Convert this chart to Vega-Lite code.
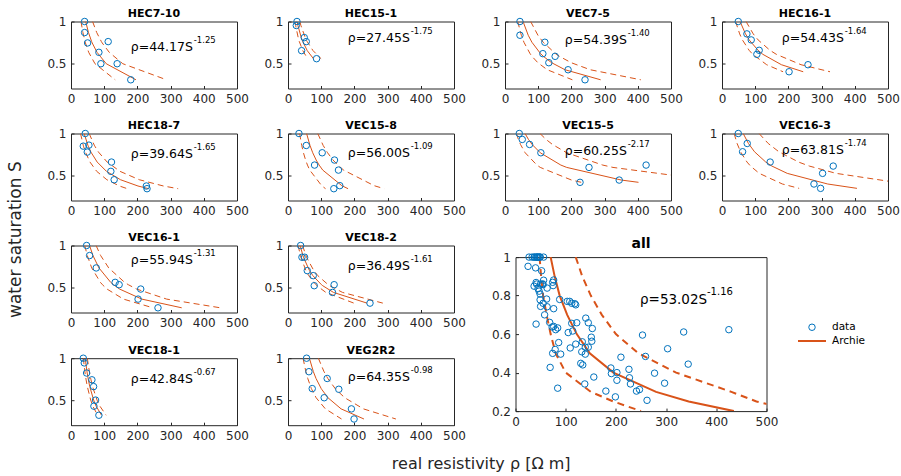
{
"$schema":"https://vega.github.io/schema/vega-lite/v6.json",
"padding":{"left":7,"top":7.5,"right":0,"bottom":0},
"config":{"view":{"stroke":"#262626","strokeWidth":1},"axis":{"domain":false,"grid":false,"labelFont":"DejaVu Sans","labelFontSize":12,"labelColor":"#262626","tickColor":"#262626","tickSize":-3,"labelPadding":8,"labelOverlap":false,"labelFlush":false},"title":{"font":"DejaVu Sans","fontSize":11,"fontWeight":"bold","color":"#000000","offset":-3.6},"text":{"font":"DejaVu Sans"},"legend":{"labelFont":"DejaVu Sans","labelFontSize":10.5,"labelColor":"#000000"}},
"datasets":{
"ann":[{"s":"HEC7-10","m":"ρ=44.17S","e":"-1.25"},{"s":"HEC15-1","m":"ρ=27.45S","e":"-1.75"},{"s":"VEC7-5","m":"ρ=54.39S","e":"-1.40"},{"s":"HEC16-1","m":"ρ=54.43S","e":"-1.64"},{"s":"HEC18-7","m":"ρ=39.64S","e":"-1.65"},{"s":"VEC15-8","m":"ρ=56.00S","e":"-1.09"},{"s":"VEC15-5","m":"ρ=60.25S","e":"-2.17"},{"s":"VEC16-3","m":"ρ=63.81S","e":"-1.74"},{"s":"VEC16-1","m":"ρ=55.94S","e":"-1.31"},{"s":"VEC18-2","m":"ρ=36.49S","e":"-1.61"},{"s":"VEC18-1","m":"ρ=42.84S","e":"-0.67"},{"s":"VEG2R2","m":"ρ=64.35S","e":"-0.98"},{"s":"all","m":"ρ=53.02S","e":"-1.16"}],
"pts":[
{"s":"HEC7-10","r":41,"S":1},{"s":"HEC7-10","r":41,"S":0.868},{"s":"HEC7-10","r":50,"S":0.744},{"s":"HEC7-10","r":112,"S":0.76},{"s":"HEC7-10","r":84,"S":0.632},{"s":"HEC7-10","r":90,"S":0.496},{"s":"HEC7-10","r":139,"S":0.496},{"s":"HEC7-10","r":180,"S":0.304},
{"s":"HEC15-1","r":27,"S":1},{"s":"HEC15-1","r":25,"S":0.952},{"s":"HEC15-1","r":49,"S":0.808},{"s":"HEC15-1","r":55,"S":0.76},{"s":"HEC15-1","r":41,"S":0.652},{"s":"HEC15-1","r":86,"S":0.556},
{"s":"VEC7-5","r":45,"S":1},{"s":"VEC7-5","r":45,"S":0.836},{"s":"VEC7-5","r":120,"S":0.752},{"s":"VEC7-5","r":114,"S":0.616},{"s":"VEC7-5","r":151,"S":0.584},{"s":"VEC7-5","r":132,"S":0.508},{"s":"VEC7-5","r":190,"S":0.424},{"s":"VEC7-5","r":241,"S":0.304},
{"s":"HEC16-1","r":49,"S":1},{"s":"HEC16-1","r":75,"S":0.852},{"s":"HEC16-1","r":88,"S":0.78},{"s":"HEC16-1","r":112,"S":0.656},{"s":"HEC16-1","r":105,"S":0.608},{"s":"HEC16-1","r":259,"S":0.484},{"s":"HEC16-1","r":202,"S":0.4},
{"s":"HEC18-7","r":43,"S":1},{"s":"HEC18-7","r":37,"S":0.849},{"s":"HEC18-7","r":54,"S":0.861},{"s":"HEC18-7","r":49,"S":0.778},{"s":"HEC18-7","r":122,"S":0.659},{"s":"HEC18-7","r":120,"S":0.548},{"s":"HEC18-7","r":130,"S":0.448},{"s":"HEC18-7","r":227,"S":0.373},{"s":"HEC18-7","r":229,"S":0.341},
{"s":"VEC15-8","r":33,"S":1},{"s":"VEC15-8","r":55,"S":0.857},{"s":"VEC15-8","r":103,"S":0.77},{"s":"VEC15-8","r":140,"S":0.683},{"s":"VEC15-8","r":80,"S":0.623},{"s":"VEC15-8","r":152,"S":0.563},{"s":"VEC15-8","r":156,"S":0.377},{"s":"VEC15-8","r":138,"S":0.341},
{"s":"VEC15-5","r":43,"S":1},{"s":"VEC15-5","r":52,"S":0.929},{"s":"VEC15-5","r":74,"S":0.869},{"s":"VEC15-5","r":108,"S":0.77},{"s":"VEC15-5","r":253,"S":0.595},{"s":"VEC15-5","r":425,"S":0.623},{"s":"VEC15-5","r":344,"S":0.444},{"s":"VEC15-5","r":226,"S":0.417},
{"s":"VEC16-3","r":49,"S":1},{"s":"VEC16-3","r":76,"S":0.881},{"s":"VEC16-3","r":62,"S":0.782},{"s":"VEC16-3","r":145,"S":0.659},{"s":"VEC16-3","r":335,"S":0.611},{"s":"VEC16-3","r":303,"S":0.524},{"s":"VEC16-3","r":277,"S":0.397},{"s":"VEC16-3","r":297,"S":0.345},
{"s":"VEC16-1","r":47,"S":1},{"s":"VEC16-1","r":56,"S":0.88},{"s":"VEC16-1","r":76,"S":0.732},{"s":"VEC16-1","r":133,"S":0.56},{"s":"VEC16-1","r":145,"S":0.532},{"s":"VEC16-1","r":210,"S":0.48},{"s":"VEC16-1","r":202,"S":0.36},{"s":"VEC16-1","r":262,"S":0.256},
{"s":"VEC18-2","r":38,"S":1},{"s":"VEC18-2","r":42,"S":0.86},{"s":"VEC18-2","r":50,"S":0.86},{"s":"VEC18-2","r":58,"S":0.7},{"s":"VEC18-2","r":76,"S":0.64},{"s":"VEC18-2","r":79,"S":0.52},{"s":"VEC18-2","r":139,"S":0.532},{"s":"VEC18-2","r":134,"S":0.44},{"s":"VEC18-2","r":247,"S":0.312},
{"s":"VEC18-1","r":37,"S":1},{"s":"VEC18-1","r":40,"S":0.944},{"s":"VEC18-1","r":47,"S":0.823},{"s":"VEC18-1","r":63,"S":0.742},{"s":"VEC18-1","r":68,"S":0.661},{"s":"VEC18-1","r":74,"S":0.5},{"s":"VEC18-1","r":69,"S":0.427},{"s":"VEC18-1","r":84,"S":0.319},
{"s":"VEG2R2","r":56,"S":1},{"s":"VEG2R2","r":63,"S":0.839},{"s":"VEG2R2","r":118,"S":0.758},{"s":"VEG2R2","r":73,"S":0.637},{"s":"VEG2R2","r":153,"S":0.629},{"s":"VEG2R2","r":109,"S":0.528},{"s":"VEG2R2","r":191,"S":0.395},{"s":"VEG2R2","r":199,"S":0.274}
],
"cur":[
{"s":"HEC7-10","S":1,"fit":44.2,"lo":30,"hi":64.9},{"s":"HEC7-10","S":0.868,"fit":52.7,"lo":35.9,"hi":77.5},{"s":"HEC7-10","S":0.76,"fit":62.2,"lo":42.3,"hi":91.5},{"s":"HEC7-10","S":0.744,"fit":63.9,"lo":43.5,"hi":94},{"s":"HEC7-10","S":0.632,"fit":78.4,"lo":53.3,"hi":115.2},{"s":"HEC7-10","S":0.496,"fit":106.1,"lo":72.2,"hi":156},{"s":"HEC7-10","S":0.304,"fit":195.7,"lo":133.1,"hi":287.7},
{"s":"HEC15-1","S":1,"fit":27.5,"lo":21.1,"hi":35.7},{"s":"HEC15-1","S":0.952,"fit":29.9,"lo":23,"hi":38.9},{"s":"HEC15-1","S":0.808,"fit":39.9,"lo":30.7,"hi":51.8},{"s":"HEC15-1","S":0.76,"fit":44.4,"lo":34.1,"hi":57.7},{"s":"HEC15-1","S":0.652,"fit":58,"lo":44.6,"hi":75.4},{"s":"HEC15-1","S":0.556,"fit":76.7,"lo":59,"hi":99.7},
{"s":"VEC7-5","S":1,"fit":54.4,"lo":38.3,"hi":77.2},{"s":"VEC7-5","S":0.836,"fit":69.9,"lo":49.2,"hi":99.2},{"s":"VEC7-5","S":0.752,"fit":81.1,"lo":57.1,"hi":115.1},{"s":"VEC7-5","S":0.616,"fit":107.2,"lo":75.5,"hi":152.2},{"s":"VEC7-5","S":0.584,"fit":115.5,"lo":81.3,"hi":164},{"s":"VEC7-5","S":0.508,"fit":140.4,"lo":98.9,"hi":199.4},{"s":"VEC7-5","S":0.424,"fit":180.8,"lo":127.3,"hi":256.7},{"s":"VEC7-5","S":0.304,"fit":288.1,"lo":202.9,"hi":409.1},
{"s":"HEC16-1","S":1,"fit":54.4,"lo":40.9,"hi":72.4},{"s":"HEC16-1","S":0.852,"fit":70.8,"lo":53.2,"hi":94.1},{"s":"HEC16-1","S":0.78,"fit":81.8,"lo":61.5,"hi":108.8},{"s":"HEC16-1","S":0.656,"fit":108.7,"lo":81.7,"hi":144.5},{"s":"HEC16-1","S":0.608,"fit":123.1,"lo":92.6,"hi":163.7},{"s":"HEC16-1","S":0.484,"fit":178.9,"lo":134.5,"hi":238},{"s":"HEC16-1","S":0.4,"fit":244.6,"lo":183.9,"hi":325.3},
{"s":"HEC18-7","S":1,"fit":39.6,"lo":28.7,"hi":54.7},{"s":"HEC18-7","S":0.861,"fit":50.8,"lo":36.8,"hi":70},{"s":"HEC18-7","S":0.849,"fit":51.9,"lo":37.6,"hi":71.7},{"s":"HEC18-7","S":0.778,"fit":60,"lo":43.5,"hi":82.8},{"s":"HEC18-7","S":0.659,"fit":78.9,"lo":57.2,"hi":108.9},{"s":"HEC18-7","S":0.548,"fit":106.9,"lo":77.5,"hi":147.6},{"s":"HEC18-7","S":0.448,"fit":149.1,"lo":108.1,"hi":205.8},{"s":"HEC18-7","S":0.373,"fit":201.8,"lo":146.2,"hi":278.5},{"s":"HEC18-7","S":0.341,"fit":233.9,"lo":169.5,"hi":322.8},
{"s":"VEC15-8","S":1,"fit":56,"lo":35,"hi":89.6},{"s":"VEC15-8","S":0.857,"fit":66.3,"lo":41.4,"hi":106},{"s":"VEC15-8","S":0.77,"fit":74.5,"lo":46.5,"hi":119.1},{"s":"VEC15-8","S":0.683,"fit":84.9,"lo":53,"hi":135.8},{"s":"VEC15-8","S":0.623,"fit":93.8,"lo":58.6,"hi":150.1},{"s":"VEC15-8","S":0.563,"fit":104.7,"lo":65.5,"hi":167.6},{"s":"VEC15-8","S":0.377,"fit":162.2,"lo":101.4,"hi":259.5},{"s":"VEC15-8","S":0.341,"fit":180.9,"lo":113.1,"hi":289.5},
{"s":"VEC15-5","S":1,"fit":60.3,"lo":34.4,"hi":105.4},{"s":"VEC15-5","S":0.929,"fit":70.7,"lo":40.4,"hi":123.7},{"s":"VEC15-5","S":0.869,"fit":81.7,"lo":46.7,"hi":143},{"s":"VEC15-5","S":0.77,"fit":106.2,"lo":60.7,"hi":185.9},{"s":"VEC15-5","S":0.623,"fit":168.2,"lo":96.1,"hi":294.4},{"s":"VEC15-5","S":0.595,"fit":185.9,"lo":106.2,"hi":325.3},{"s":"VEC15-5","S":0.444,"fit":350.8,"lo":200.5,"hi":613.9},{"s":"VEC15-5","S":0.417,"fit":402.1,"lo":229.8,"hi":703.6},
{"s":"VEC16-3","S":1,"fit":63.8,"lo":36.5,"hi":111.7},{"s":"VEC16-3","S":0.881,"fit":79.6,"lo":45.5,"hi":139.2},{"s":"VEC16-3","S":0.782,"fit":97.9,"lo":55.9,"hi":171.3},{"s":"VEC16-3","S":0.659,"fit":131.8,"lo":75.3,"hi":230.7},{"s":"VEC16-3","S":0.611,"fit":150.4,"lo":85.9,"hi":263.2},{"s":"VEC16-3","S":0.524,"fit":196.5,"lo":112.3,"hi":343.8},{"s":"VEC16-3","S":0.397,"fit":318.4,"lo":181.9,"hi":557.2},{"s":"VEC16-3","S":0.345,"fit":406.5,"lo":232.3,"hi":711.4},
{"s":"VEC16-1","S":1,"fit":55.9,"lo":41.4,"hi":75.5},{"s":"VEC16-1","S":0.88,"fit":66.1,"lo":49,"hi":89.3},{"s":"VEC16-1","S":0.732,"fit":84.2,"lo":62.4,"hi":113.6},{"s":"VEC16-1","S":0.56,"fit":119.6,"lo":88.6,"hi":161.4},{"s":"VEC16-1","S":0.532,"fit":127.9,"lo":94.7,"hi":172.6},{"s":"VEC16-1","S":0.48,"fit":146.3,"lo":108.4,"hi":197.5},{"s":"VEC16-1","S":0.36,"fit":213.3,"lo":158,"hi":288},{"s":"VEC16-1","S":0.256,"fit":333.4,"lo":247,"hi":450.1},
{"s":"VEC18-2","S":1,"fit":36.5,"lo":30.4,"hi":43.8},{"s":"VEC18-2","S":0.86,"fit":46.5,"lo":38.8,"hi":55.8},{"s":"VEC18-2","S":0.7,"fit":64.8,"lo":54,"hi":77.8},{"s":"VEC18-2","S":0.64,"fit":74.9,"lo":62.4,"hi":89.8},{"s":"VEC18-2","S":0.532,"fit":100.8,"lo":84,"hi":121},{"s":"VEC18-2","S":0.52,"fit":104.6,"lo":87.1,"hi":125.5},{"s":"VEC18-2","S":0.44,"fit":136.9,"lo":114,"hi":164.2},{"s":"VEC18-2","S":0.312,"fit":238,"lo":198.4,"hi":285.6},
{"s":"VEC18-1","S":1,"fit":42.8,"lo":37.3,"hi":49.3},{"s":"VEC18-1","S":0.944,"fit":44.5,"lo":38.7,"hi":51.2},{"s":"VEC18-1","S":0.823,"fit":48.8,"lo":42.4,"hi":56.1},{"s":"VEC18-1","S":0.742,"fit":52.3,"lo":45.5,"hi":60.2},{"s":"VEC18-1","S":0.661,"fit":56.5,"lo":49.2,"hi":65},{"s":"VEC18-1","S":0.5,"fit":68.2,"lo":59.3,"hi":78.4},{"s":"VEC18-1","S":0.427,"fit":75.8,"lo":65.9,"hi":87.1},{"s":"VEC18-1","S":0.319,"fit":92.1,"lo":80.1,"hi":105.9},
{"s":"VEG2R2","S":1,"fit":64.4,"lo":45.3,"hi":91.4},{"s":"VEG2R2","S":0.839,"fit":76.4,"lo":53.8,"hi":108.5},{"s":"VEG2R2","S":0.758,"fit":84.4,"lo":59.5,"hi":119.9},{"s":"VEG2R2","S":0.637,"fit":100.1,"lo":70.5,"hi":142.2},{"s":"VEG2R2","S":0.629,"fit":101.4,"lo":71.4,"hi":143.9},{"s":"VEG2R2","S":0.528,"fit":120.3,"lo":84.7,"hi":170.9},{"s":"VEG2R2","S":0.395,"fit":159.9,"lo":112.6,"hi":227.1},{"s":"VEG2R2","S":0.274,"fit":228.8,"lo":161.2,"hi":325},
{"s":"all","S":1,"fit":70,"lo":48,"hi":120},{"s":"all","S":0.9,"fit":78,"lo":51,"hi":133},{"s":"all","S":0.8,"fit":88,"lo":55,"hi":150},{"s":"all","S":0.7,"fit":103,"lo":62,"hi":172},{"s":"all","S":0.6,"fit":122,"lo":70,"hi":200},{"s":"all","S":0.5,"fit":148,"lo":80,"hi":245},{"s":"all","S":0.4,"fit":195,"lo":100,"hi":320},{"s":"all","S":0.3,"fit":280,"lo":150,"hi":430},{"s":"all","S":0.25,"fit":345,"lo":195,"hi":480},{"s":"all","S":0.2,"fit":435,"lo":250,"hi":560}
]
},
"title":{"text":"water saturation S","orient":"left","anchor":"middle","fontSize":17,"fontWeight":"normal","color":"#262626","offset":21},
"vconcat":[{
"title":{"text":"real resistivity ρ [Ω m]","orient":"bottom","anchor":"middle","fontSize":16,"fontWeight":"normal","color":"#262626","offset":14,"dx":8},
"spacing":14,
"vconcat":[
{"bounds":"flush","spacing":51,"hconcat":[
{"title":"HEC7-10","width":166,"height":67,"resolve":{"axis":{"x":"independent","y":"independent"}},"layer":[{"encoding":{"x":{"field":"r","type":"quantitative","scale":{"domain":[0,500]},"axis":{"values":[0,100,200,300,400,500],"title":null}},"y":{"field":"S","type":"quantitative","scale":{"domain":[0.2,1]},"axis":{"values":[0.5,1],"format":"~g","title":null}}},"layer":[{"data":{"name":"cur"},"transform":[{"filter":"datum.s=='HEC7-10'"},{"fold":["lo","hi"],"as":["t","r"]}],"mark":{"type":"line","color":"#D95319","strokeWidth":1,"strokeDash":[6,4],"clip":true},"encoding":{"detail":{"field":"t"}}},{"data":{"name":"cur"},"transform":[{"filter":"datum.s=='HEC7-10'"},{"fold":["fit"],"as":["t","r"]}],"mark":{"type":"line","color":"#D95319","strokeWidth":1,"clip":true}},{"data":{"name":"pts"},"transform":[{"filter":"datum.s=='HEC7-10'"}],"mark":{"type":"point","color":"#0072BD","size":42,"strokeWidth":1,"opacity":1}}]},{"data":{"name":"ann"},"transform":[{"filter":"datum.s=='HEC7-10'"}],"mark":{"type":"text","align":"left","fontSize":12.5,"color":"#000000"},"encoding":{"x":{"datum":180,"axis":null},"y":{"datum":0.7,"axis":null},"text":{"field":"m"}}},{"data":{"name":"ann"},"transform":[{"filter":"datum.s=='HEC7-10'"}],"mark":{"type":"text","align":"left","fontSize":8.5,"dx":63,"dy":-7,"color":"#000000"},"encoding":{"x":{"datum":180,"axis":null},"y":{"datum":0.7,"axis":null},"text":{"field":"e"}}}]},
{"title":"HEC15-1","width":166,"height":67,"resolve":{"axis":{"x":"independent","y":"independent"}},"layer":[{"encoding":{"x":{"field":"r","type":"quantitative","scale":{"domain":[0,500]},"axis":{"values":[0,100,200,300,400,500],"title":null}},"y":{"field":"S","type":"quantitative","scale":{"domain":[0.2,1]},"axis":{"values":[0.5,1],"format":"~g","title":null}}},"layer":[{"data":{"name":"cur"},"transform":[{"filter":"datum.s=='HEC15-1'"},{"fold":["lo","hi"],"as":["t","r"]}],"mark":{"type":"line","color":"#D95319","strokeWidth":1,"strokeDash":[6,4],"clip":true},"encoding":{"detail":{"field":"t"}}},{"data":{"name":"cur"},"transform":[{"filter":"datum.s=='HEC15-1'"},{"fold":["fit"],"as":["t","r"]}],"mark":{"type":"line","color":"#D95319","strokeWidth":1,"clip":true}},{"data":{"name":"pts"},"transform":[{"filter":"datum.s=='HEC15-1'"}],"mark":{"type":"point","color":"#0072BD","size":42,"strokeWidth":1,"opacity":1}}]},{"data":{"name":"ann"},"transform":[{"filter":"datum.s=='HEC15-1'"}],"mark":{"type":"text","align":"left","fontSize":12.5,"color":"#000000"},"encoding":{"x":{"datum":180,"axis":null},"y":{"datum":0.8,"axis":null},"text":{"field":"m"}}},{"data":{"name":"ann"},"transform":[{"filter":"datum.s=='HEC15-1'"}],"mark":{"type":"text","align":"left","fontSize":8.5,"dx":63,"dy":-7,"color":"#000000"},"encoding":{"x":{"datum":180,"axis":null},"y":{"datum":0.8,"axis":null},"text":{"field":"e"}}}]},
{"title":"VEC7-5","width":166,"height":67,"resolve":{"axis":{"x":"independent","y":"independent"}},"layer":[{"encoding":{"x":{"field":"r","type":"quantitative","scale":{"domain":[0,500]},"axis":{"values":[0,100,200,300,400,500],"title":null}},"y":{"field":"S","type":"quantitative","scale":{"domain":[0.2,1]},"axis":{"values":[0.5,1],"format":"~g","title":null}}},"layer":[{"data":{"name":"cur"},"transform":[{"filter":"datum.s=='VEC7-5'"},{"fold":["lo","hi"],"as":["t","r"]}],"mark":{"type":"line","color":"#D95319","strokeWidth":1,"strokeDash":[6,4],"clip":true},"encoding":{"detail":{"field":"t"}}},{"data":{"name":"cur"},"transform":[{"filter":"datum.s=='VEC7-5'"},{"fold":["fit"],"as":["t","r"]}],"mark":{"type":"line","color":"#D95319","strokeWidth":1,"clip":true}},{"data":{"name":"pts"},"transform":[{"filter":"datum.s=='VEC7-5'"}],"mark":{"type":"point","color":"#0072BD","size":42,"strokeWidth":1,"opacity":1}}]},{"data":{"name":"ann"},"transform":[{"filter":"datum.s=='VEC7-5'"}],"mark":{"type":"text","align":"left","fontSize":12.5,"color":"#000000"},"encoding":{"x":{"datum":180,"axis":null},"y":{"datum":0.777,"axis":null},"text":{"field":"m"}}},{"data":{"name":"ann"},"transform":[{"filter":"datum.s=='VEC7-5'"}],"mark":{"type":"text","align":"left","fontSize":8.5,"dx":63,"dy":-7,"color":"#000000"},"encoding":{"x":{"datum":180,"axis":null},"y":{"datum":0.777,"axis":null},"text":{"field":"e"}}}]},
{"title":"HEC16-1","width":166,"height":67,"resolve":{"axis":{"x":"independent","y":"independent"}},"layer":[{"encoding":{"x":{"field":"r","type":"quantitative","scale":{"domain":[0,500]},"axis":{"values":[0,100,200,300,400,500],"title":null}},"y":{"field":"S","type":"quantitative","scale":{"domain":[0.2,1]},"axis":{"values":[0.5,1],"format":"~g","title":null}}},"layer":[{"data":{"name":"cur"},"transform":[{"filter":"datum.s=='HEC16-1'"},{"fold":["lo","hi"],"as":["t","r"]}],"mark":{"type":"line","color":"#D95319","strokeWidth":1,"strokeDash":[6,4],"clip":true},"encoding":{"detail":{"field":"t"}}},{"data":{"name":"cur"},"transform":[{"filter":"datum.s=='HEC16-1'"},{"fold":["fit"],"as":["t","r"]}],"mark":{"type":"line","color":"#D95319","strokeWidth":1,"clip":true}},{"data":{"name":"pts"},"transform":[{"filter":"datum.s=='HEC16-1'"}],"mark":{"type":"point","color":"#0072BD","size":42,"strokeWidth":1,"opacity":1}}]},{"data":{"name":"ann"},"transform":[{"filter":"datum.s=='HEC16-1'"}],"mark":{"type":"text","align":"left","fontSize":12.5,"color":"#000000"},"encoding":{"x":{"datum":180,"axis":null},"y":{"datum":0.808,"axis":null},"text":{"field":"m"}}},{"data":{"name":"ann"},"transform":[{"filter":"datum.s=='HEC16-1'"}],"mark":{"type":"text","align":"left","fontSize":8.5,"dx":63,"dy":-7,"color":"#000000"},"encoding":{"x":{"datum":180,"axis":null},"y":{"datum":0.808,"axis":null},"text":{"field":"e"}}}]}
]},
{"bounds":"flush","spacing":51,"hconcat":[
{"title":"HEC18-7","width":166,"height":67,"resolve":{"axis":{"x":"independent","y":"independent"}},"layer":[{"encoding":{"x":{"field":"r","type":"quantitative","scale":{"domain":[0,500]},"axis":{"values":[0,100,200,300,400,500],"title":null}},"y":{"field":"S","type":"quantitative","scale":{"domain":[0.2,1]},"axis":{"values":[0.5,1],"format":"~g","title":null}}},"layer":[{"data":{"name":"cur"},"transform":[{"filter":"datum.s=='HEC18-7'"},{"fold":["lo","hi"],"as":["t","r"]}],"mark":{"type":"line","color":"#D95319","strokeWidth":1,"strokeDash":[6,4],"clip":true},"encoding":{"detail":{"field":"t"}}},{"data":{"name":"cur"},"transform":[{"filter":"datum.s=='HEC18-7'"},{"fold":["fit"],"as":["t","r"]}],"mark":{"type":"line","color":"#D95319","strokeWidth":1,"clip":true}},{"data":{"name":"pts"},"transform":[{"filter":"datum.s=='HEC18-7'"}],"mark":{"type":"point","color":"#0072BD","size":42,"strokeWidth":1,"opacity":1}}]},{"data":{"name":"ann"},"transform":[{"filter":"datum.s=='HEC18-7'"}],"mark":{"type":"text","align":"left","fontSize":12.5,"color":"#000000"},"encoding":{"x":{"datum":180,"axis":null},"y":{"datum":0.755,"axis":null},"text":{"field":"m"}}},{"data":{"name":"ann"},"transform":[{"filter":"datum.s=='HEC18-7'"}],"mark":{"type":"text","align":"left","fontSize":8.5,"dx":63,"dy":-7,"color":"#000000"},"encoding":{"x":{"datum":180,"axis":null},"y":{"datum":0.755,"axis":null},"text":{"field":"e"}}}]},
{"title":"VEC15-8","width":166,"height":67,"resolve":{"axis":{"x":"independent","y":"independent"}},"layer":[{"encoding":{"x":{"field":"r","type":"quantitative","scale":{"domain":[0,500]},"axis":{"values":[0,100,200,300,400,500],"title":null}},"y":{"field":"S","type":"quantitative","scale":{"domain":[0.2,1]},"axis":{"values":[0.5,1],"format":"~g","title":null}}},"layer":[{"data":{"name":"cur"},"transform":[{"filter":"datum.s=='VEC15-8'"},{"fold":["lo","hi"],"as":["t","r"]}],"mark":{"type":"line","color":"#D95319","strokeWidth":1,"strokeDash":[6,4],"clip":true},"encoding":{"detail":{"field":"t"}}},{"data":{"name":"cur"},"transform":[{"filter":"datum.s=='VEC15-8'"},{"fold":["fit"],"as":["t","r"]}],"mark":{"type":"line","color":"#D95319","strokeWidth":1,"clip":true}},{"data":{"name":"pts"},"transform":[{"filter":"datum.s=='VEC15-8'"}],"mark":{"type":"point","color":"#0072BD","size":42,"strokeWidth":1,"opacity":1}}]},{"data":{"name":"ann"},"transform":[{"filter":"datum.s=='VEC15-8'"}],"mark":{"type":"text","align":"left","fontSize":12.5,"color":"#000000"},"encoding":{"x":{"datum":180,"axis":null},"y":{"datum":0.767,"axis":null},"text":{"field":"m"}}},{"data":{"name":"ann"},"transform":[{"filter":"datum.s=='VEC15-8'"}],"mark":{"type":"text","align":"left","fontSize":8.5,"dx":63,"dy":-7,"color":"#000000"},"encoding":{"x":{"datum":180,"axis":null},"y":{"datum":0.767,"axis":null},"text":{"field":"e"}}}]},
{"title":"VEC15-5","width":166,"height":67,"resolve":{"axis":{"x":"independent","y":"independent"}},"layer":[{"encoding":{"x":{"field":"r","type":"quantitative","scale":{"domain":[0,500]},"axis":{"values":[0,100,200,300,400,500],"title":null}},"y":{"field":"S","type":"quantitative","scale":{"domain":[0.2,1]},"axis":{"values":[0.5,1],"format":"~g","title":null}}},"layer":[{"data":{"name":"cur"},"transform":[{"filter":"datum.s=='VEC15-5'"},{"fold":["lo","hi"],"as":["t","r"]}],"mark":{"type":"line","color":"#D95319","strokeWidth":1,"strokeDash":[6,4],"clip":true},"encoding":{"detail":{"field":"t"}}},{"data":{"name":"cur"},"transform":[{"filter":"datum.s=='VEC15-5'"},{"fold":["fit"],"as":["t","r"]}],"mark":{"type":"line","color":"#D95319","strokeWidth":1,"clip":true}},{"data":{"name":"pts"},"transform":[{"filter":"datum.s=='VEC15-5'"}],"mark":{"type":"point","color":"#0072BD","size":42,"strokeWidth":1,"opacity":1}}]},{"data":{"name":"ann"},"transform":[{"filter":"datum.s=='VEC15-5'"}],"mark":{"type":"text","align":"left","fontSize":12.5,"color":"#000000"},"encoding":{"x":{"datum":180,"axis":null},"y":{"datum":0.796,"axis":null},"text":{"field":"m"}}},{"data":{"name":"ann"},"transform":[{"filter":"datum.s=='VEC15-5'"}],"mark":{"type":"text","align":"left","fontSize":8.5,"dx":63,"dy":-7,"color":"#000000"},"encoding":{"x":{"datum":180,"axis":null},"y":{"datum":0.796,"axis":null},"text":{"field":"e"}}}]},
{"title":"VEC16-3","width":166,"height":67,"resolve":{"axis":{"x":"independent","y":"independent"}},"layer":[{"encoding":{"x":{"field":"r","type":"quantitative","scale":{"domain":[0,500]},"axis":{"values":[0,100,200,300,400,500],"title":null}},"y":{"field":"S","type":"quantitative","scale":{"domain":[0.2,1]},"axis":{"values":[0.5,1],"format":"~g","title":null}}},"layer":[{"data":{"name":"cur"},"transform":[{"filter":"datum.s=='VEC16-3'"},{"fold":["lo","hi"],"as":["t","r"]}],"mark":{"type":"line","color":"#D95319","strokeWidth":1,"strokeDash":[6,4],"clip":true},"encoding":{"detail":{"field":"t"}}},{"data":{"name":"cur"},"transform":[{"filter":"datum.s=='VEC16-3'"},{"fold":["fit"],"as":["t","r"]}],"mark":{"type":"line","color":"#D95319","strokeWidth":1,"clip":true}},{"data":{"name":"pts"},"transform":[{"filter":"datum.s=='VEC16-3'"}],"mark":{"type":"point","color":"#0072BD","size":42,"strokeWidth":1,"opacity":1}}]},{"data":{"name":"ann"},"transform":[{"filter":"datum.s=='VEC16-3'"}],"mark":{"type":"text","align":"left","fontSize":12.5,"color":"#000000"},"encoding":{"x":{"datum":180,"axis":null},"y":{"datum":0.808,"axis":null},"text":{"field":"m"}}},{"data":{"name":"ann"},"transform":[{"filter":"datum.s=='VEC16-3'"}],"mark":{"type":"text","align":"left","fontSize":8.5,"dx":63,"dy":-7,"color":"#000000"},"encoding":{"x":{"datum":180,"axis":null},"y":{"datum":0.808,"axis":null},"text":{"field":"e"}}}]}
]},
{"spacing":24.5,"hconcat":[
{"spacing":14.7,"vconcat":[
{"bounds":"flush","spacing":51,"hconcat":[
{"title":"VEC16-1","width":166,"height":67,"resolve":{"axis":{"x":"independent","y":"independent"}},"layer":[{"encoding":{"x":{"field":"r","type":"quantitative","scale":{"domain":[0,500]},"axis":{"values":[0,100,200,300,400,500],"title":null}},"y":{"field":"S","type":"quantitative","scale":{"domain":[0.2,1]},"axis":{"values":[0.5,1],"format":"~g","title":null}}},"layer":[{"data":{"name":"cur"},"transform":[{"filter":"datum.s=='VEC16-1'"},{"fold":["lo","hi"],"as":["t","r"]}],"mark":{"type":"line","color":"#D95319","strokeWidth":1,"strokeDash":[6,4],"clip":true},"encoding":{"detail":{"field":"t"}}},{"data":{"name":"cur"},"transform":[{"filter":"datum.s=='VEC16-1'"},{"fold":["fit"],"as":["t","r"]}],"mark":{"type":"line","color":"#D95319","strokeWidth":1,"clip":true}},{"data":{"name":"pts"},"transform":[{"filter":"datum.s=='VEC16-1'"}],"mark":{"type":"point","color":"#0072BD","size":42,"strokeWidth":1,"opacity":1}}]},{"data":{"name":"ann"},"transform":[{"filter":"datum.s=='VEC16-1'"}],"mark":{"type":"text","align":"left","fontSize":12.5,"color":"#000000"},"encoding":{"x":{"datum":180,"axis":null},"y":{"datum":0.826,"axis":null},"text":{"field":"m"}}},{"data":{"name":"ann"},"transform":[{"filter":"datum.s=='VEC16-1'"}],"mark":{"type":"text","align":"left","fontSize":8.5,"dx":63,"dy":-7,"color":"#000000"},"encoding":{"x":{"datum":180,"axis":null},"y":{"datum":0.826,"axis":null},"text":{"field":"e"}}}]},
{"title":"VEC18-2","width":166,"height":67,"resolve":{"axis":{"x":"independent","y":"independent"}},"layer":[{"encoding":{"x":{"field":"r","type":"quantitative","scale":{"domain":[0,500]},"axis":{"values":[0,100,200,300,400,500],"title":null}},"y":{"field":"S","type":"quantitative","scale":{"domain":[0.2,1]},"axis":{"values":[0.5,1],"format":"~g","title":null}}},"layer":[{"data":{"name":"cur"},"transform":[{"filter":"datum.s=='VEC18-2'"},{"fold":["lo","hi"],"as":["t","r"]}],"mark":{"type":"line","color":"#D95319","strokeWidth":1,"strokeDash":[6,4],"clip":true},"encoding":{"detail":{"field":"t"}}},{"data":{"name":"cur"},"transform":[{"filter":"datum.s=='VEC18-2'"},{"fold":["fit"],"as":["t","r"]}],"mark":{"type":"line","color":"#D95319","strokeWidth":1,"clip":true}},{"data":{"name":"pts"},"transform":[{"filter":"datum.s=='VEC18-2'"}],"mark":{"type":"point","color":"#0072BD","size":42,"strokeWidth":1,"opacity":1}}]},{"data":{"name":"ann"},"transform":[{"filter":"datum.s=='VEC18-2'"}],"mark":{"type":"text","align":"left","fontSize":12.5,"color":"#000000"},"encoding":{"x":{"datum":180,"axis":null},"y":{"datum":0.76,"axis":null},"text":{"field":"m"}}},{"data":{"name":"ann"},"transform":[{"filter":"datum.s=='VEC18-2'"}],"mark":{"type":"text","align":"left","fontSize":8.5,"dx":63,"dy":-7,"color":"#000000"},"encoding":{"x":{"datum":180,"axis":null},"y":{"datum":0.76,"axis":null},"text":{"field":"e"}}}]}
]},
{"bounds":"flush","spacing":51,"hconcat":[
{"title":"VEC18-1","width":166,"height":67,"resolve":{"axis":{"x":"independent","y":"independent"}},"layer":[{"encoding":{"x":{"field":"r","type":"quantitative","scale":{"domain":[0,500]},"axis":{"values":[0,100,200,300,400,500],"title":null}},"y":{"field":"S","type":"quantitative","scale":{"domain":[0.2,1]},"axis":{"values":[0.5,1],"format":"~g","title":null}}},"layer":[{"data":{"name":"cur"},"transform":[{"filter":"datum.s=='VEC18-1'"},{"fold":["lo","hi"],"as":["t","r"]}],"mark":{"type":"line","color":"#D95319","strokeWidth":1,"strokeDash":[6,4],"clip":true},"encoding":{"detail":{"field":"t"}}},{"data":{"name":"cur"},"transform":[{"filter":"datum.s=='VEC18-1'"},{"fold":["fit"],"as":["t","r"]}],"mark":{"type":"line","color":"#D95319","strokeWidth":1,"clip":true}},{"data":{"name":"pts"},"transform":[{"filter":"datum.s=='VEC18-1'"}],"mark":{"type":"point","color":"#0072BD","size":42,"strokeWidth":1,"opacity":1}}]},{"data":{"name":"ann"},"transform":[{"filter":"datum.s=='VEC18-1'"}],"mark":{"type":"text","align":"left","fontSize":12.5,"color":"#000000"},"encoding":{"x":{"datum":180,"axis":null},"y":{"datum":0.753,"axis":null},"text":{"field":"m"}}},{"data":{"name":"ann"},"transform":[{"filter":"datum.s=='VEC18-1'"}],"mark":{"type":"text","align":"left","fontSize":8.5,"dx":63,"dy":-7,"color":"#000000"},"encoding":{"x":{"datum":180,"axis":null},"y":{"datum":0.753,"axis":null},"text":{"field":"e"}}}]},
{"title":"VEG2R2","width":166,"height":67,"resolve":{"axis":{"x":"independent","y":"independent"}},"layer":[{"encoding":{"x":{"field":"r","type":"quantitative","scale":{"domain":[0,500]},"axis":{"values":[0,100,200,300,400,500],"title":null}},"y":{"field":"S","type":"quantitative","scale":{"domain":[0.2,1]},"axis":{"values":[0.5,1],"format":"~g","title":null}}},"layer":[{"data":{"name":"cur"},"transform":[{"filter":"datum.s=='VEG2R2'"},{"fold":["lo","hi"],"as":["t","r"]}],"mark":{"type":"line","color":"#D95319","strokeWidth":1,"strokeDash":[6,4],"clip":true},"encoding":{"detail":{"field":"t"}}},{"data":{"name":"cur"},"transform":[{"filter":"datum.s=='VEG2R2'"},{"fold":["fit"],"as":["t","r"]}],"mark":{"type":"line","color":"#D95319","strokeWidth":1,"clip":true}},{"data":{"name":"pts"},"transform":[{"filter":"datum.s=='VEG2R2'"}],"mark":{"type":"point","color":"#0072BD","size":42,"strokeWidth":1,"opacity":1}}]},{"data":{"name":"ann"},"transform":[{"filter":"datum.s=='VEG2R2'"}],"mark":{"type":"text","align":"left","fontSize":12.5,"color":"#000000"},"encoding":{"x":{"datum":180,"axis":null},"y":{"datum":0.772,"axis":null},"text":{"field":"m"}}},{"data":{"name":"ann"},"transform":[{"filter":"datum.s=='VEG2R2'"}],"mark":{"type":"text","align":"left","fontSize":8.5,"dx":63,"dy":-7,"color":"#000000"},"encoding":{"x":{"datum":180,"axis":null},"y":{"datum":0.772,"axis":null},"text":{"field":"e"}}}]}
]}
]},
{"bounds":"flush","spacing":10.6,"vconcat":[
{"width":251,"height":1,"data":{"values":[{}]},"mark":{"type":"point","opacity":0},"encoding":{},"view":{"stroke":null}},
{"title":{"text":"all","fontSize":14,"offset":0.5},"width":251,"height":154,"resolve":{"axis":{"x":"independent","y":"independent"}},"layer":[
{"encoding":{"x":{"field":"r","type":"quantitative","scale":{"domain":[0,500]},"axis":{"values":[0,100,200,300,400,500],"title":null}},"y":{"field":"S","type":"quantitative","scale":{"domain":[0.2,1]},"axis":{"values":[0.2,0.4,0.6,0.8,1],"format":"~g","title":null}}},"layer":[
{"data":{"name":"cur"},"transform":[{"filter":"datum.s=='all'"},{"fold":["lo","hi"],"as":["t","r"]}],"mark":{"type":"line","color":"#D95319","strokeWidth":2,"strokeDash":[7,5],"clip":true},"encoding":{"detail":{"field":"t"}}},
{"data":{"name":"cur"},"transform":[{"filter":"datum.s=='all'"},{"fold":["fit"],"as":["t","r"]}],"mark":{"type":"line","clip":true},"encoding":{"color":{"datum":"Archie","type":"nominal","scale":{"domain":["data","Archie"],"range":["#0072BD","#D95319"]},"legend":{"orient":"none","legendX":729,"legendY":296.5,"title":null,"padding":4,"rowPadding":0,"labelOffset":12}},"strokeWidth":{"datum":"Archie","type":"nominal","scale":{"domain":["data","Archie"],"range":[1,2]}}}},
{"data":{"name":"pts"},"mark":{"type":"point","filled":false,"opacity":1},"encoding":{"color":{"datum":"data","type":"nominal","scale":{"domain":["data","Archie"],"range":["#0072BD","#D95319"]}},"shape":{"datum":"data","type":"nominal","scale":{"domain":["data","Archie"],"range":["circle","M-2,0H2"]}},"size":{"datum":"data","type":"nominal","scale":{"domain":["data","Archie"],"range":[42,196]}},"strokeWidth":{"datum":"data","type":"nominal","scale":{"domain":["data","Archie"],"range":[1,2]}}}}
]},
{"data":{"name":"ann"},"transform":[{"filter":"datum.s=='all'"}],"mark":{"type":"text","align":"left","fontSize":13.5,"color":"#000000"},"encoding":{"x":{"datum":248,"axis":null},"y":{"datum":0.777,"axis":null},"text":{"field":"m"}}},
{"data":{"name":"ann"},"transform":[{"filter":"datum.s=='all'"}],"mark":{"type":"text","align":"left","fontSize":10,"dx":67,"dy":-8,"color":"#000000"},"encoding":{"x":{"datum":248,"axis":null},"y":{"datum":0.777,"axis":null},"text":{"field":"e"}}}
]}
]}
]}
]
}]
}
